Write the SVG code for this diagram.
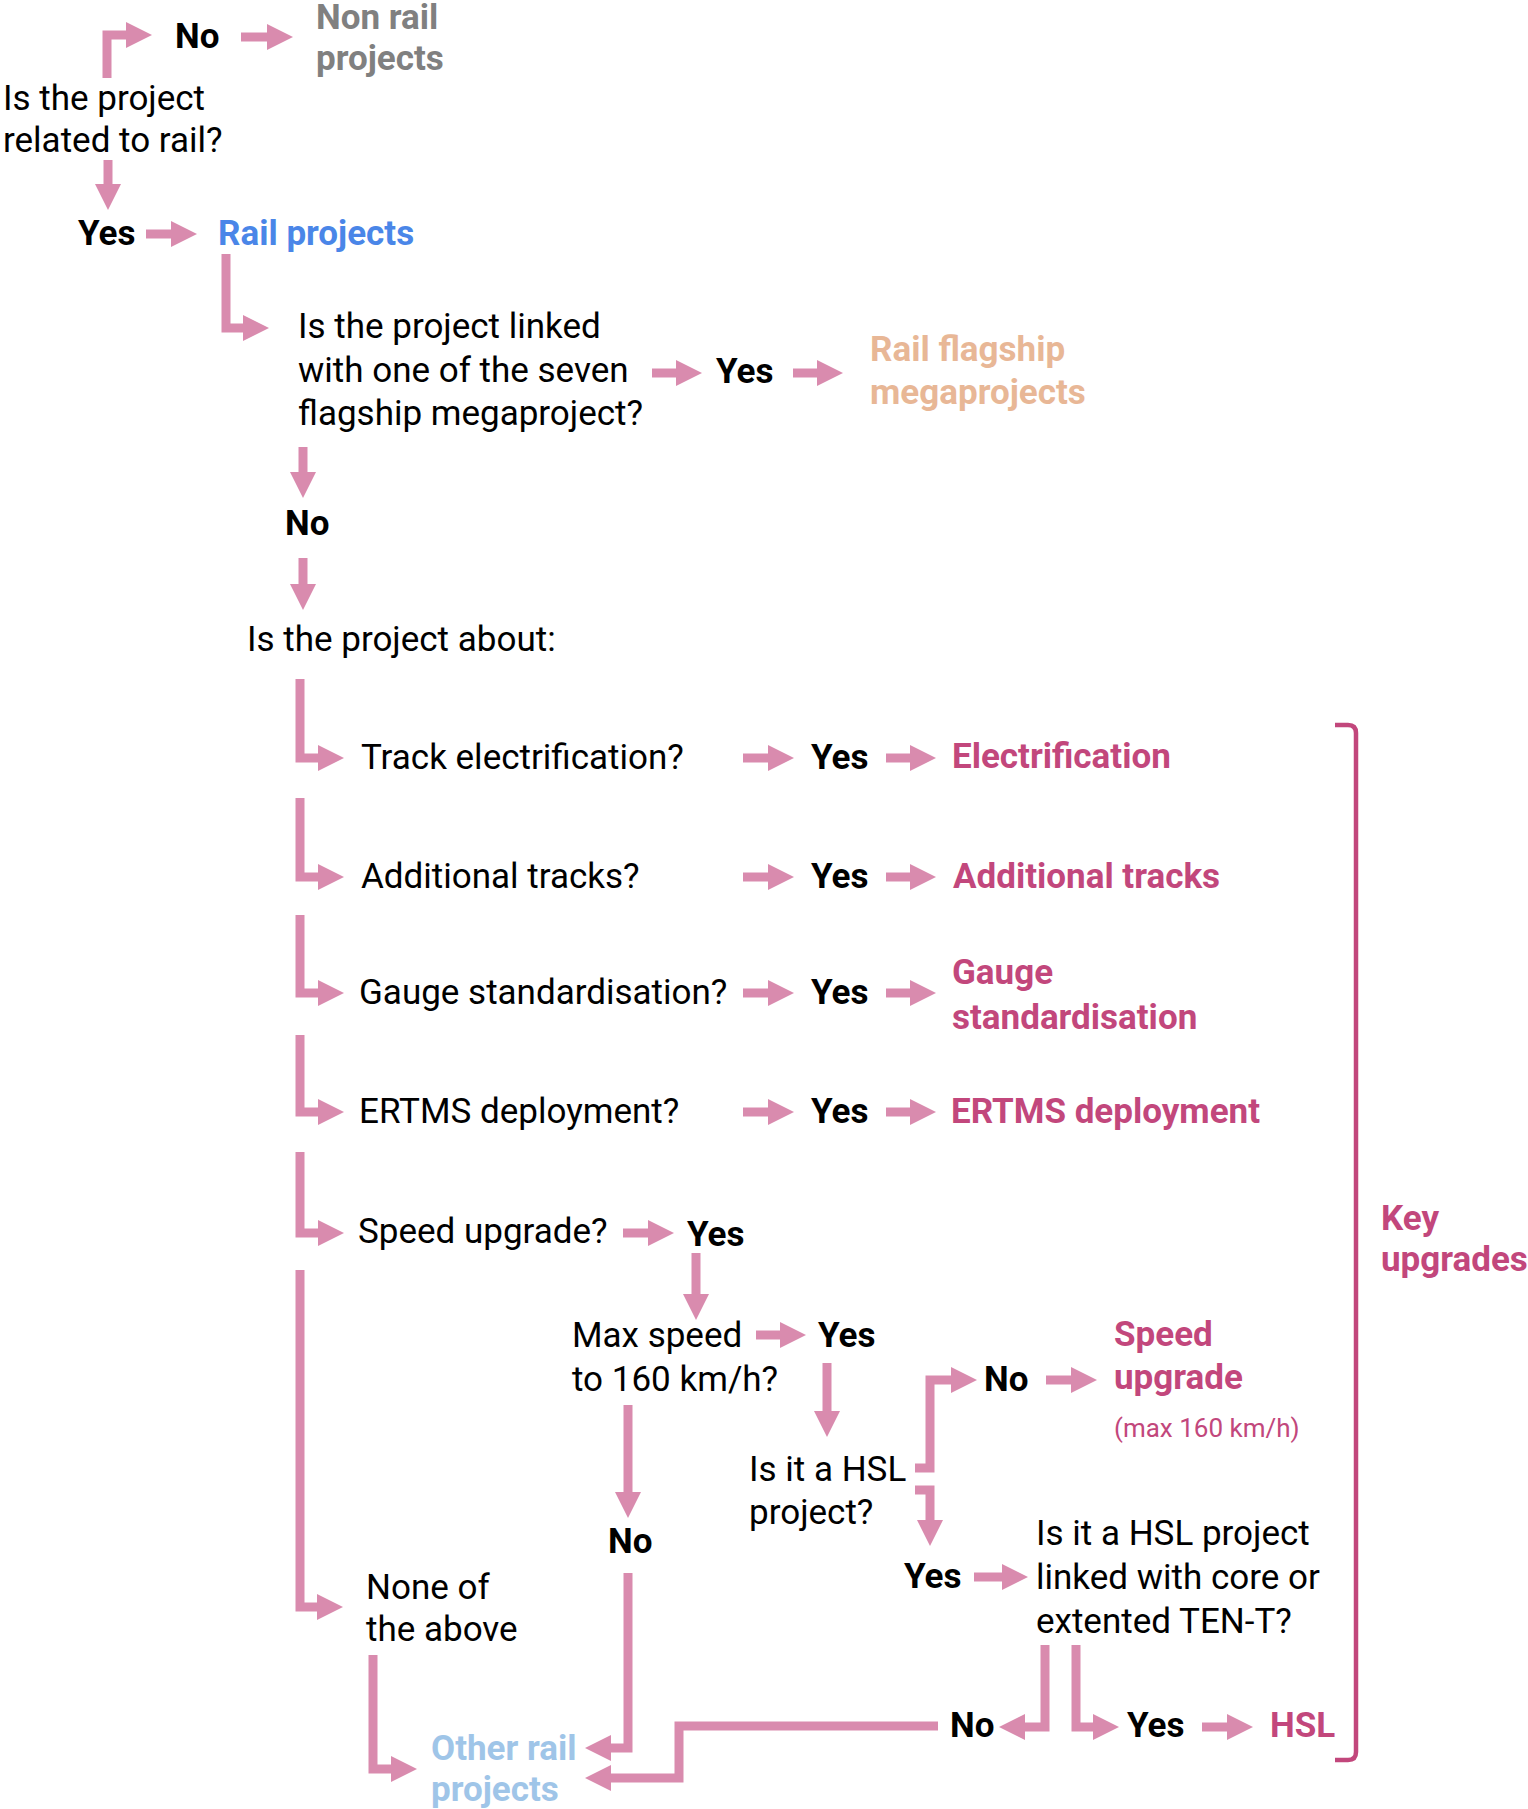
<svg xmlns="http://www.w3.org/2000/svg" width="1528" height="1809" viewBox="0 0 1528 1809">
<defs>
<marker id="ah" viewBox="0 0 26 26" markerWidth="26" markerHeight="26" markerUnits="userSpaceOnUse" refX="0" refY="13" orient="auto">
<path d="M0,0 L26,13 L0,26 z" fill="#d98bae"/>
</marker>
<style>
text{font-family:Roboto,"Liberation Sans",sans-serif;font-size:35px;fill:#000}
.b{font-weight:bold}
.pk{font-weight:bold;fill:#c2477c}
.gr{font-weight:bold;fill:#808080}
.bl{font-weight:bold;fill:#4a86e8}
.pe{font-weight:bold;fill:#e8b796}
.lb{font-weight:bold;fill:#9fc5e8}
.sm{font-size:26px;fill:#c2477c}
#connectors path{fill:none;stroke:#d98bae;stroke-width:9;stroke-linejoin:miter}
#connectors path.a{marker-end:url(#ah)}
#bracket path{fill:none;stroke:#c2477c;stroke-width:4.5}
</style>
</defs>
<rect width="1528" height="1809" fill="#fff"/>
<g id="connectors">
<path class="a" d="M107,78 V35 H126"/>
<path class="a" d="M241,37 H267"/>
<path class="a" d="M108,160 V184"/>
<path class="a" d="M146,234 H171"/>
<path class="a" d="M226,254 V328 H243"/>
<path class="a" d="M652,373 H676"/>
<path class="a" d="M793,373 H817"/>
<path class="a" d="M303,447 V472"/>
<path class="a" d="M303,558 V584"/>
<path class="a" d="M300,679 V758 H318"/>
<path class="a" d="M743,758 H768"/>
<path class="a" d="M886,758 H910"/>
<path class="a" d="M300,798 V877 H318"/>
<path class="a" d="M743,877 H768"/>
<path class="a" d="M886,877 H910"/>
<path class="a" d="M300,915 V993 H318"/>
<path class="a" d="M743,993 H768"/>
<path class="a" d="M886,993 H910"/>
<path class="a" d="M300,1035 V1112 H318"/>
<path class="a" d="M743,1112 H768"/>
<path class="a" d="M886,1112 H910"/>
<path class="a" d="M300,1152 V1233 H318"/>
<path class="a" d="M623,1233 H648"/>
<path class="a" d="M300,1270 V1607 H317"/>
<path class="a" d="M696,1253 V1294"/>
<path class="a" d="M756,1335 H780"/>
<path class="a" d="M827,1363 V1411"/>
<path class="a" d="M628,1405 V1492"/>
<path class="a" d="M915,1468 H930 V1380 H951"/>
<path class="a" d="M1046,1380 H1071"/>
<path class="a" d="M915,1490 H930 V1520"/>
<path class="a" d="M974,1577 H1002"/>
<path class="a" d="M628,1573 V1748 H611"/>
<path class="a" d="M373,1655 V1769 H391"/>
<path class="a" d="M1045,1645 V1727 H1025"/>
<path class="a" d="M1076,1645 V1727 H1093"/>
<path class="a" d="M938,1726 H679 V1778 H611"/>
<path class="a" d="M1202,1727 H1227"/>
</g>
<g id="bracket"><path d="M1335,725 H1348 Q1356,725 1356,733 V1752 Q1356,1760 1348,1760 H1335"/></g>
<g id="q-rail"><text x="3" y="110">Is the project</text><text x="3" y="152">related to rail?</text></g>
<g id="no-1"><text class="b" x="175" y="48">No</text></g>
<g id="non-rail"><text class="gr" x="316" y="29">Non rail</text><text class="gr" x="316" y="70">projects</text></g>
<g id="yes-1"><text class="b" x="78" y="245">Yes</text></g>
<g id="rail-projects"><text class="bl" x="218" y="245">Rail projects</text></g>
<g id="q-flagship"><text x="298" y="338">Is the project linked</text><text x="298" y="382">with one of the seven</text><text x="298" y="425">flagship megaproject?</text></g>
<g id="yes-2"><text class="b" x="716" y="383">Yes</text></g>
<g id="flagship"><text class="pe" x="870" y="361">Rail flagship</text><text class="pe" x="870" y="404">megaprojects</text></g>
<g id="no-2"><text class="b" x="285" y="535">No</text></g>
<g id="q-about"><text x="247" y="651">Is the project about:</text></g>
<g id="q-electrification"><text x="361" y="769">Track electrification?</text></g>
<g id="yes-el"><text class="b" x="811" y="769">Yes</text></g>
<g id="electrification"><text class="pk" x="952" y="768">Electrification</text></g>
<g id="q-tracks"><text x="361" y="888">Additional tracks?</text></g>
<g id="yes-tr"><text class="b" x="811" y="888">Yes</text></g>
<g id="tracks"><text class="pk" x="953" y="888">Additional tracks</text></g>
<g id="q-gauge"><text x="359" y="1004">Gauge standardisation?</text></g>
<g id="yes-ga"><text class="b" x="811" y="1004">Yes</text></g>
<g id="gauge"><text class="pk" x="952" y="984">Gauge</text><text class="pk" x="952" y="1029">standardisation</text></g>
<g id="q-ertms"><text x="359" y="1123">ERTMS deployment?</text></g>
<g id="yes-er"><text class="b" x="811" y="1123">Yes</text></g>
<g id="ertms"><text class="pk" x="951" y="1123">ERTMS deployment</text></g>
<g id="q-speed"><text x="358" y="1243">Speed upgrade?</text></g>
<g id="yes-sp"><text class="b" x="687" y="1246">Yes</text></g>
<g id="q-max"><text x="572" y="1347">Max speed</text><text x="572" y="1391">to 160 km/h?</text></g>
<g id="yes-max"><text class="b" x="818" y="1347">Yes</text></g>
<g id="no-max"><text class="b" x="608" y="1553">No</text></g>
<g id="q-hsl"><text x="749" y="1481">Is it a HSL</text><text x="749" y="1524">project?</text></g>
<g id="no-hsl"><text class="b" x="984" y="1391">No</text></g>
<g id="speed-upgrade"><text class="pk" x="1114" y="1346">Speed</text><text class="pk" x="1114" y="1389">upgrade</text><text class="sm" x="1114" y="1437">(max 160 km/h)</text></g>
<g id="yes-hsl"><text class="b" x="904" y="1588">Yes</text></g>
<g id="q-tent"><text x="1036" y="1545">Is it a HSL project</text><text x="1036" y="1589">linked with core or</text><text x="1036" y="1633">extented TEN-T?</text></g>
<g id="none"><text x="366" y="1599">None of</text><text x="366" y="1641">the above</text></g>
<g id="other-rail"><text class="lb" x="431" y="1760">Other rail</text><text class="lb" x="431" y="1801">projects</text></g>
<g id="no-tent"><text class="b" x="950" y="1737">No</text></g>
<g id="yes-tent"><text class="b" x="1127" y="1737">Yes</text></g>
<g id="hsl"><text class="pk" x="1270" y="1737">HSL</text></g>
<g id="key"><text class="pk" x="1381" y="1230">Key</text><text class="pk" x="1381" y="1271">upgrades</text></g>
</svg>
